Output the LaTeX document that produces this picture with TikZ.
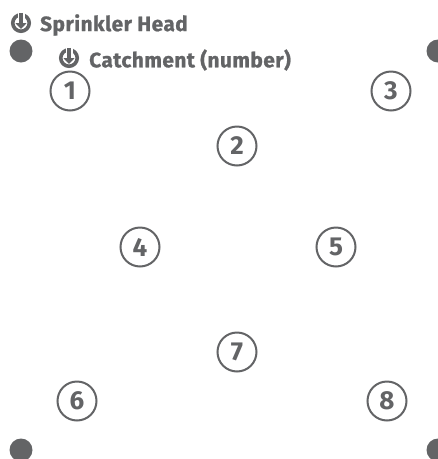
\documentclass[tikz,border=0pt]{standalone}
\usepackage{fontspec}
\setmainfont{Fira Sans}
\newfontfamily\legendfont[BoldFeatures={FakeBold=1.1}, LetterSpace=2.3]{Fira Sans}
\usepackage{tikz}
\usetikzlibrary{arrows.meta, positioning}
\definecolor{headgray}{HTML}{636466}

\begin{document}
\begin{tikzpicture}[
        x=1pt, y=-1pt,
        catchment/.style={circle, draw=headgray, line width=2pt, fill=white, minimum size=39pt, inner sep=0pt, text=headgray, font=\fontsize{26}{26}\selectfont\bfseries},
        head/.style={circle, fill=headgray, minimum size=23pt, inner sep=0pt},
        legend_style/.style={text=headgray, inner sep=0pt, font=\fontsize{20.8}{20.8}\legendfont\bfseries},
        icon/.style={circle, draw=headgray, line width=3.6pt, minimum size=16.5pt, inner sep=0pt},
        icon_gap/.style={white, line width=7pt},
        icon_tip/.style={-{Triangle[length=6pt, width=11pt]}, headgray, line width=3.4pt}
    ]
        \useasboundingbox (0, 0) rectangle (438, 459);

        % Cabezas en las esquinas
        \foreach \i/\x/\y in {1/21/51, 2/438/51, 3/21/450, 4/438/450}
            \node[head] (H-\i) at (\x, \y) {};

        % Zonas numeradas
        \foreach \i/\x/\y in {1/70/91, 2/237/146, 3/391/91, 4/140/247, 5/336/247, 6/77/401, 7/237/352, 8/387/401}
            \node[catchment] (C-\i) at (\x, \y) {\i};

        % Leyenda
        \node[icon] (I-1) at (21, 23) {};
        \node[icon] (I-2) at (69, 58) {};
        \coordinate (T-1) at (21, 29);
        \coordinate (T-2) at (69, 64);
        \foreach \i in {1, 2} {
            \draw[icon_gap] (I-\i.north) ++(0, -2) -- (I-\i.center);
            \draw[icon_tip] (I-\i.north) -- (T-\i);
        }

        \node[legend_style, anchor=west] (L-1) at (40, 25) {Sprinkler Head};
        \node[legend_style, anchor=west] (L-2) at (89, 60) {Catchment (number)};

    \end{tikzpicture}
\end{document}
